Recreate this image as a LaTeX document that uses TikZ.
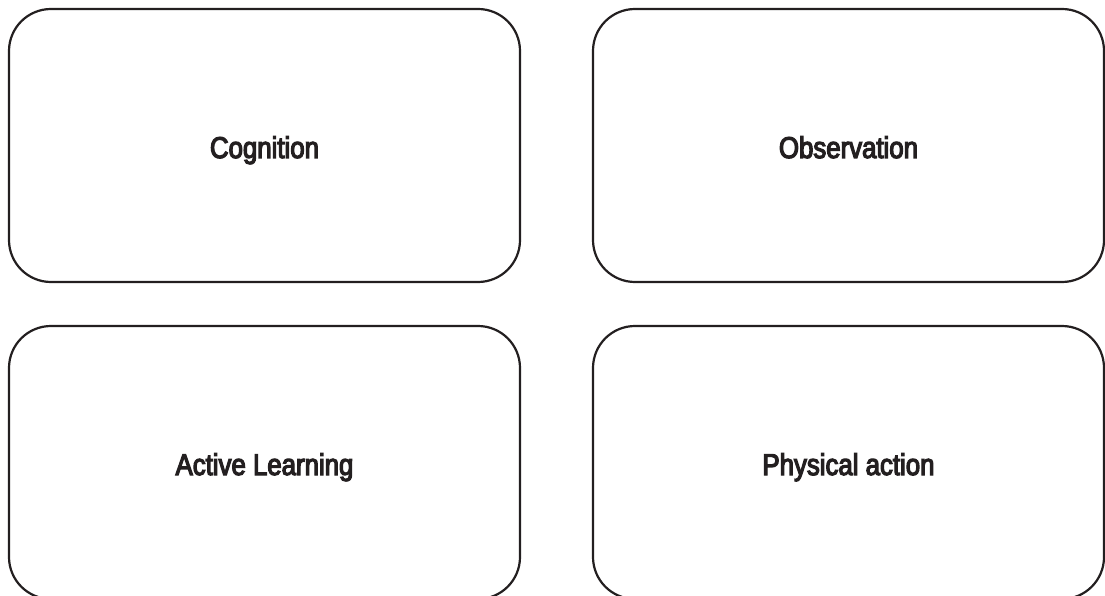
\documentclass[tikz,border=0pt]{standalone}
\usepackage{fontspec}
\setmainfont[FakeStretch=0.86, FakeBold=4]{Liberation Sans}
\usepackage{tikz}
\usetikzlibrary{positioning}
\definecolor{inkgray}{HTML}{231F20}

\begin{document}
\begin{tikzpicture}[x=1pt, y=1pt, node distance=44pt and 73pt]
    % Styles
    \tikzstyle{card} = [rectangle, draw=inkgray, text=inkgray, line width=2.2pt, outer sep=0pt, rounded corners=42pt, minimum width=511pt, minimum height=273pt, text height=31pt, text depth=6pt, font=\fontsize{30}{36}\selectfont]

    % Frame
    \useasboundingbox (0,0) rectangle (1105,-596);

    % Nodes
    \node [card] (cog) at (264.5,-145.5) {Cognition};
    \node [card, right=of cog] (obs) {Observation};
    \node [card, below=of cog] (act) {Active Learning};
    \node [card, below=of obs] (phy) {Physical action};

\end{tikzpicture}
\end{document}
